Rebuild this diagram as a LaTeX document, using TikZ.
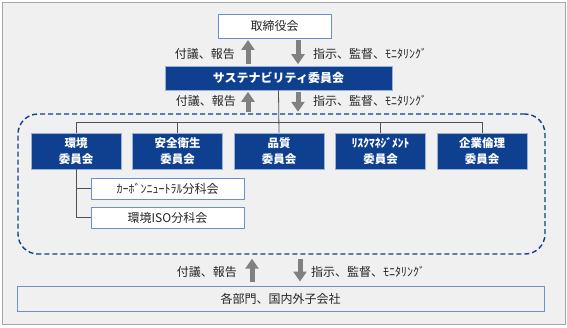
\documentclass[tikz,border=0pt]{standalone}
\usepackage{fontspec}
\setmainfont{Noto Sans CJK JP}
\usepackage{tikz}
\usetikzlibrary{arrows.meta,positioning}
\definecolor{navy}{HTML}{0F3F8F}
\definecolor{edge}{HTML}{6C8FCB}
\definecolor{ink}{HTML}{262626}
\definecolor{stone}{HTML}{808080}
\definecolor{paper}{HTML}{F0F0F0}
\definecolor{rim}{HTML}{A6A6A6}
\tikzset{
  every node/.style={font=\fontsize{12}{16}\selectfont,text=ink},
  wbox/.style={draw=edge,line width=0.9pt,fill=white,inner sep=0pt},
  nbox/.style={draw=edge!70,line width=0.6pt,fill=navy,inner sep=0pt,align=center,
    text=white,font=\fontsize{11.5}{16}\selectfont\bfseries},
  grp/.style={draw=navy,line width=1.4pt,dash pattern=on 5pt off 3pt,rounded corners=20pt,inner sep=0pt},
  lbl/.style={inner sep=0pt},
  bigarr/.style={draw=stone,line width=5pt,-{Triangle[width=13pt,length=10pt]},shorten >=1.5pt,shorten <=1.5pt},
  tree/.style={draw=ink!80,line width=0.8pt},
}

\begin{document}
\begin{tikzpicture}[x=1pt,y=-1pt]
  \useasboundingbox (0,0) rectangle (567,327);
  \draw[rim,fill=paper,line width=1pt] (2,2) rectangle (565,324);
  \node[wbox,minimum width=113pt,minimum height=24pt] (bod) at (274.5,26) {取締役会};
  \node[nbox,minimum width=227pt,minimum height=24pt,font=\fontsize{12}{16}\selectfont\bfseries] (sus) at (278.5,78) {サステナビリティ委員会};
  \node[grp,minimum width=527pt,minimum height=140pt] (frame) at (281.5,184) {};
  \foreach \n/\t [count=\i] in {env/環境, safe/安全衛生, qual/品質, risk/ﾘｽｸﾏﾈｼﾞﾒﾝﾄ, eth/企業倫理}
    { \node[nbox,minimum width=90pt,minimum height=36pt] (\n) at ({76+101.5*(\i-1)},151) {\t\\委員会}; }
  \node[wbox,minimum width=153pt,minimum height=21pt] (cn) at (167.5,188.5) {ｶｰﾎﾞﾝﾆｭｰﾄﾗﾙ分科会};
  \node[wbox,minimum width=153pt,minimum height=21pt] (iso) at (167.5,217.5) {環境ISO分科会};
  \node[wbox,fill=paper,minimum width=527pt,minimum height=25pt] (dept) at (280.5,298.5) {各部門、国内外子会社};
  % tree
  \draw[tree] (sus.south) -- (qual.north);
  \draw[tree] (env.north) -- ++(0,-10) -| (eth.north);
  \draw[tree] (safe.north) -- ++(0,-10);
  \draw[tree] (risk.north) -- ++(0,-10);
  \draw[tree] (env.south) |- (iso.west);
  \draw[tree] (env.south |- cn.west) -- (cn.west);
  % arrows
  \draw[bigarr] ([xshift=-30.5pt]sus.north) -- ([xshift=-30.5pt]sus.north |- bod.south);
  \draw[bigarr] ([xshift=19.5pt]sus.north |- bod.south) -- ([xshift=19.5pt]sus.north);
  \draw[bigarr] ([xshift=-30.5pt]sus.south |- frame.north) -- ([xshift=-30.5pt]sus.south);
  \draw[bigarr] ([xshift=19.5pt]sus.south) -- ([xshift=19.5pt]sus.south |- frame.north);
  \draw[bigarr,shorten >=4pt,shorten <=4pt] ([xshift=-28.5pt]dept.north) -- ([xshift=-28.5pt]dept.north |- frame.south);
  \draw[bigarr,shorten >=4pt,shorten <=4pt] ([xshift=19.5pt]dept.north |- frame.south) -- ([xshift=19.5pt]dept.north);
  \node[lbl,anchor=east] (up1) at (235,54) {付議、報告};
  \node[lbl,anchor=west] (dn1) at (313,54) {指示、監督、ﾓﾆﾀﾘﾝｸﾞ};
  \node[lbl,anchor=east] (up2) at (236,101) {付議、報告};
  \node[lbl,anchor=west] (dn2) at (313,101) {指示、監督、ﾓﾆﾀﾘﾝｸﾞ};
  \node[lbl,anchor=east] (up3) at (237,272) {付議、報告};
  \node[lbl,anchor=west] (dn3) at (311,272) {指示、監督、ﾓﾆﾀﾘﾝｸﾞ};
\end{tikzpicture}
\end{document}
